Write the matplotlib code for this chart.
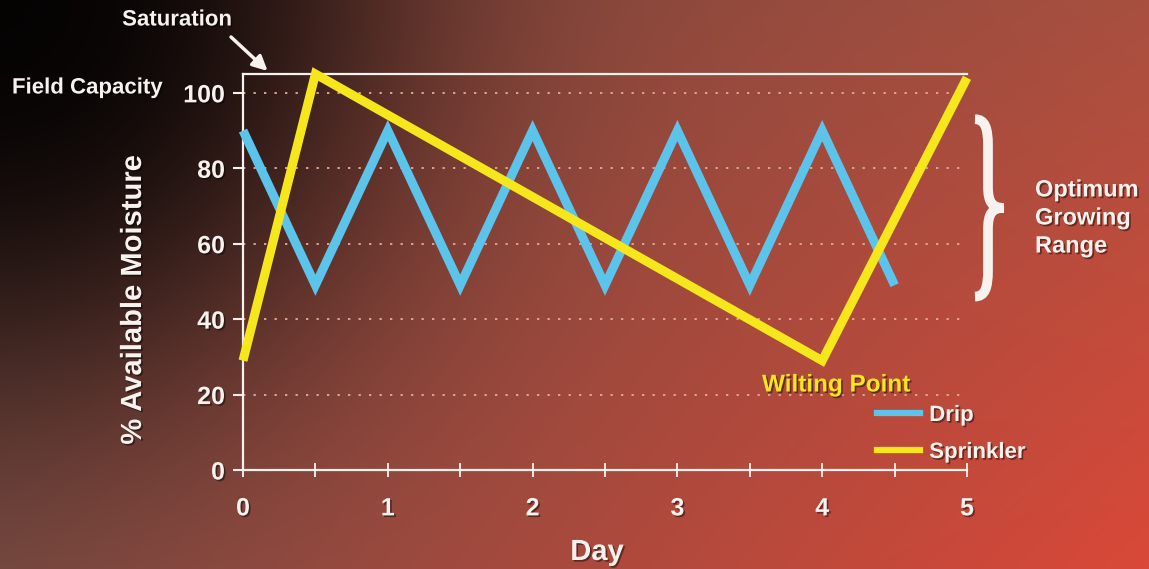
import numpy as np
import matplotlib
matplotlib.use("Agg")
import matplotlib.pyplot as plt
import matplotlib.patheffects as pe
from matplotlib.lines import Line2D
from matplotlib.path import Path
from matplotlib.patches import PathPatch
from matplotlib.transforms import blended_transform_factory

# data
drip_days = [0, 0.5, 1, 1.5, 2, 2.5, 3, 3.5, 4, 4.5]
drip_moisture = [90, 49, 90, 49, 90, 49, 90, 49, 90, 49]
sprinkler_days = [0, 0.5, 4, 5]
sprinkler_moisture = [29, 105, 29, 104]
y_ticks = [0, 20, 40, 60, 80, 100]
x_ticks = [0, 1, 2, 3, 4, 5]
optimum_range = (46, 93)
saturation_level = 105

DRIP = "#5cc3ea"
SPRINKLER = "#f6e61c"
WHITE = "#f8f2ee"
GRID = "#dca48e"

plt.rcParams["font.family"] = ["Liberation Sans", "DejaVu Sans"]
plt.rcParams["font.weight"] = "bold"

W, H = 1149, 569
fig = plt.figure(figsize=(W / 100, H / 100), dpi=100)

# background: brown -> red gradient with a dark top-left corner
bg = fig.add_axes([0, 0, 1, 1], zorder=-10)
yy, xx = np.mgrid[0:H, 0:W].astype(float)
u, v = xx / W, yy / H
tl = np.array([0x6e, 0x42, 0x3a]) / 255
tr = np.array([0xa8, 0x50, 0x40]) / 255
bl = np.array([0x7c, 0x4c, 0x43]) / 255
br = np.array([0xda, 0x48, 0x38]) / 255
u3, v3 = u[..., None], v[..., None]
base = (tl * (1 - u3) * (1 - v3) + tr * u3 * (1 - v3)
        + bl * (1 - u3) * v3 + br * u3 * v3)
d = np.sqrt(xx ** 2 + yy ** 2)
shade = 1 - 0.95 * np.exp(-(d / 390) ** 2.6)
bg.imshow(np.clip(base * shade[..., None], 0, 1), aspect="auto")
bg.axis("off")

ax = fig.add_axes([243 / W, 1 - 470 / H, 724 / W, 396 / H])
ax.patch.set_alpha(0)
ax.set_xlim(0, 5)
ax.set_ylim(0, saturation_level)

for spine in ["left", "bottom", "top"]:
    ax.spines[spine].set_color(WHITE)
    ax.spines[spine].set_linewidth(1.6)
ax.spines["right"].set_visible(False)

ax.set_yticks(y_ticks)
ax.set_xticks(x_ticks)
ax.set_xticks(np.arange(0, 5.01, 0.5), minor=True)
ax.tick_params(axis="y", colors=WHITE, length=7, width=1.5, direction="out",
               labelsize=18, pad=6)
ax.tick_params(axis="x", which="major", colors=WHITE, length=10, width=1.3,
               direction="inout", labelsize=18, pad=14)
ax.tick_params(axis="x", which="minor", colors=WHITE, length=10, width=1.3,
               direction="inout")
ax.tick_params(axis="y", which="minor", left=False)
shadow = [pe.withSimplePatchShadow(offset=(1.2, -1.2), shadow_rgbFace="black", alpha=0.45)]
for lab in ax.get_xticklabels() + ax.get_yticklabels():
    lab.set_fontweight("bold")
    lab.set_path_effects(shadow)

for yv in y_ticks[1:]:
    ax.axhline(yv, color=GRID, lw=1.4, ls=(0, (1.2, 4.2)), zorder=1)

ax.plot(drip_days, drip_moisture, color=DRIP, lw=6.5, solid_joinstyle="miter",
        solid_capstyle="butt", zorder=3, clip_on=False)
ax.plot(sprinkler_days, sprinkler_moisture, color=SPRINKLER, lw=6.5,
        solid_joinstyle="miter", solid_capstyle="butt", zorder=4, clip_on=False)

txt = dict(color=WHITE, fontweight="bold", path_effects=shadow)
fig.text(133 / W, 1 - 300 / H, "% Available Moisture", rotation=90,
         ha="center", va="center", fontsize=21, **txt)
fig.text(597 / W, 1 - 552 / H, "Day", ha="center", va="center", fontsize=21, **txt)
fig.text(12 / W, 1 - 88 / H, "Field Capacity", ha="left", va="center", fontsize=16, **txt)
fig.text(177 / W, 1 - 20 / H, "Saturation", ha="center", va="center", fontsize=16, **txt)
ax.annotate("", xy=(0.17, saturation_level + 0.8), xycoords="data",
            xytext=(231 / W, 1 - 37 / H), textcoords="figure fraction",
            arrowprops=dict(arrowstyle="-|>", color=WHITE, lw=2.5,
                            mutation_scale=22, shrinkA=0, shrinkB=0),
            annotation_clip=False)
fig.text(762 / W, 1 - 385 / H, "Wilting Point", ha="left", va="center",
         fontsize=17.5, color=SPRINKLER, fontweight="bold", path_effects=shadow)

# brace marking optimum growing range
bt = blended_transform_factory(ax.transAxes, ax.transData)
bx = np.array([0.0, 0.35, 0.45, 0.45, 0.45, 0.45, 0.6, 1.0,
               0.6, 0.45, 0.45, 0.45, 0.45, 0.35, 0.0])
by = np.array([1.0, 1.0, 0.95, 0.85, 0.62, 0.53, 0.5, 0.5,
               0.5, 0.47, 0.38, 0.15, 0.05, 0.0, 0.0])
lo, hi = optimum_range
verts = np.column_stack([1.011 + bx * 0.04, lo + by * (hi - lo)])
codes = [Path.MOVETO, Path.CURVE4, Path.CURVE4, Path.CURVE4, Path.LINETO,
         Path.CURVE4, Path.CURVE4, Path.CURVE4, Path.CURVE4, Path.CURVE4,
         Path.CURVE4, Path.LINETO, Path.CURVE4, Path.CURVE4, Path.CURVE4]
ax.add_patch(PathPatch(Path(verts, codes), transform=bt, fill=False,
                       ec=WHITE, lw=7, joinstyle="miter", capstyle="butt",
                       clip_on=False))
fig.text(1035 / W, 1 - 218 / H, "Optimum\nGrowing\nRange", ha="left", va="center",
         fontsize=17, linespacing=1.28, **txt)

handles = [Line2D([], [], color=DRIP, lw=4.5), Line2D([], [], color=SPRINKLER, lw=4.5)]
leg = fig.legend(handles, ["Drip", "Sprinkler"], loc="upper left",
                 bbox_to_anchor=(877 / W, 1 - 405 / H), frameon=False,
                 fontsize=16, handlelength=1.95, handletextpad=0.4,
                 labelspacing=0.72, borderpad=0, borderaxespad=0)
for t in leg.get_texts():
    t.set_color(WHITE)
    t.set_fontweight("bold")
    t.set_path_effects(shadow)

fig.savefig("out.png", dpi=100)
